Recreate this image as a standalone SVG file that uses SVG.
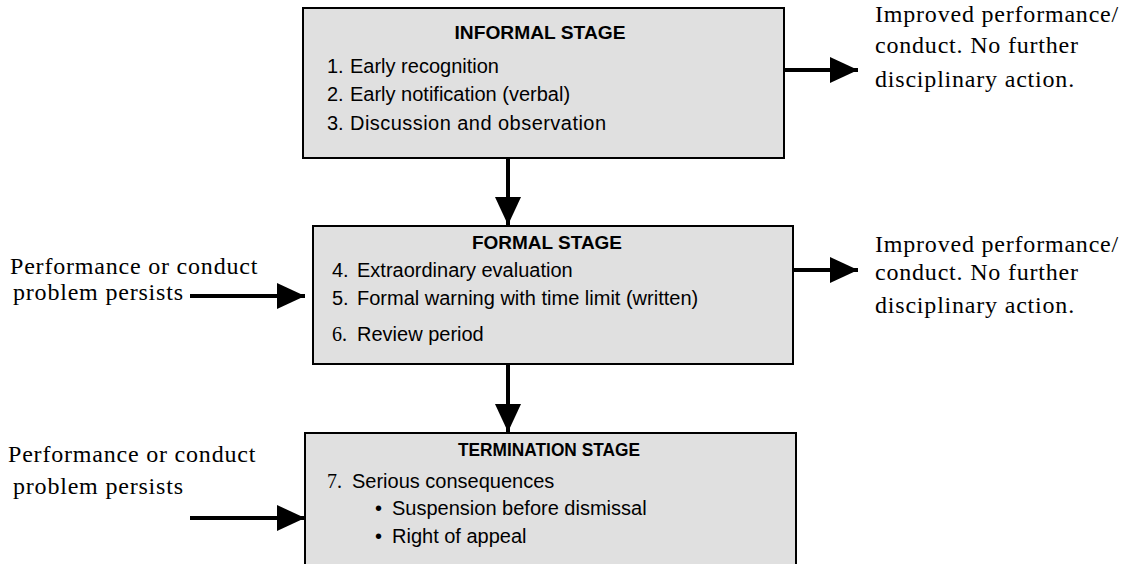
<svg xmlns="http://www.w3.org/2000/svg" width="1130" height="564" viewBox="0 0 1130 564">
<defs>
<marker id="ah" viewBox="0 0 28 26" refX="28" refY="13" markerWidth="28" markerHeight="26" markerUnits="userSpaceOnUse" orient="auto">
<path d="M0,0 L28,13 L0,26 Z" fill="#000"/>
</marker>
<style>
.box{fill:#e0e0e0;stroke:#000;stroke-width:2}
.title{font-family:"Liberation Sans",Arial,sans-serif;font-weight:bold;font-size:18px;text-anchor:middle;fill:#000}
.item{font-family:"Liberation Sans",Arial,sans-serif;font-size:20px;fill:#000}
.num{font-family:"Liberation Serif","Times New Roman",serif;font-size:20px;fill:#000}
.side{font-family:"Liberation Serif","Times New Roman",serif;font-size:24px;letter-spacing:0.8px;fill:#000}
.conn{stroke:#000;stroke-width:4;fill:none;marker-end:url(#ah)}
</style>
</defs>
<rect width="1130" height="564" fill="#fff"/>
<g id="informal">
<rect class="box" x="303" y="8" width="481" height="150"/>
<text class="title" x="540" y="39" textLength="171" lengthAdjust="spacingAndGlyphs">INFORMAL STAGE</text>
<text class="item" x="327" y="73">1.</text><text class="item" x="350" y="73">Early recognition</text>
<text class="item" x="327" y="101">2.</text><text class="item" x="350" y="101">Early notification (verbal)</text>
<text class="item" x="327" y="130">3.</text><text class="item" x="350" y="130" textLength="256" lengthAdjust="spacing">Discussion and observation</text>
</g>
<g id="formal">
<rect class="box" x="313" y="226" width="480" height="138"/>
<text class="title" x="547" y="249" textLength="150" lengthAdjust="spacingAndGlyphs">FORMAL STAGE</text>
<text class="item" x="332" y="277">4.</text><text class="item" x="357" y="277">Extraordinary evaluation</text>
<text class="item" x="332" y="305">5.</text><text class="item" x="357" y="305">Formal warning with time limit (written)</text>
<text class="num" x="332" y="341">6.</text><text class="item" x="357" y="341">Review period</text>
</g>
<g id="termination">
<rect class="box" x="305" y="433" width="491" height="140"/>
<text class="title" x="549" y="456" textLength="182" lengthAdjust="spacingAndGlyphs">TERMINATION STAGE</text>
<text class="num" x="327" y="488">7.</text><text class="item" x="352" y="488">Serious consequences</text>
<text class="item" x="375" y="515">•</text><text class="item" x="392" y="515">Suspension before dismissal</text>
<text class="item" x="375" y="543">•</text><text class="item" x="392" y="543">Right of appeal</text>
</g>
<g id="outcome1">
<text class="side" x="875" y="22">Improved performance/</text>
<text class="side" x="875" y="53">conduct. No further</text>
<text class="side" x="875" y="87">disciplinary action.</text>
</g>
<g id="outcome2">
<text class="side" x="875" y="252">Improved performance/</text>
<text class="side" x="875" y="280">conduct. No further</text>
<text class="side" x="875" y="313">disciplinary action.</text>
</g>
<g id="persist1">
<text class="side" x="10" y="274">Performance or conduct</text>
<text class="side" x="13" y="300">problem persists</text>
</g>
<g id="persist2">
<text class="side" x="8" y="462">Performance or conduct</text>
<text class="side" x="13" y="494">problem persists</text>
</g>
<g id="connectors">
<line class="conn" x1="508" y1="159" x2="508" y2="225"/>
<line class="conn" x1="508" y1="365" x2="508" y2="432"/>
<line class="conn" x1="785" y1="70" x2="858" y2="70"/>
<line class="conn" x1="794" y1="270" x2="858" y2="270"/>
<line class="conn" x1="190" y1="296" x2="305" y2="296"/>
<line class="conn" x1="190" y1="518" x2="305" y2="518"/>
</g>
</svg>
